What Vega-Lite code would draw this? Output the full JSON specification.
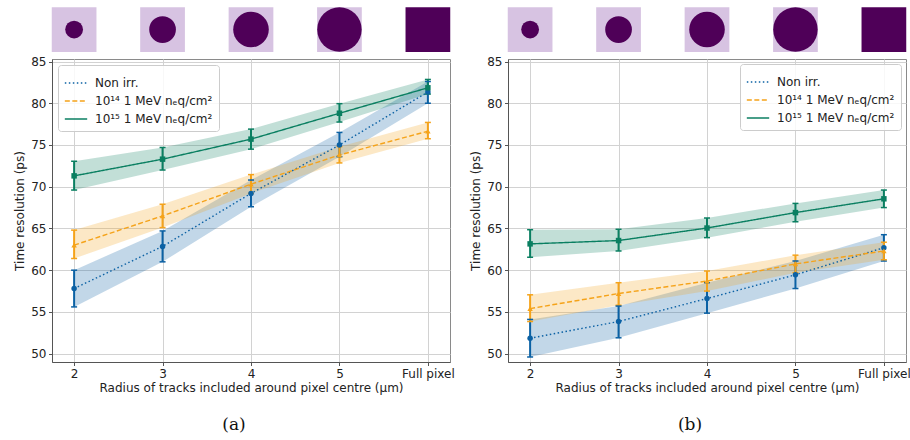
{
  "$schema": "https://vega.github.io/schema/vega-lite/v6.json",
  "padding": {"left": 13, "top": 6, "right": 0, "bottom": 0},
  "background": "white",
  "spacing": 14,
  "datasets": {
    "icons": [
      {"x": 2, "radius": 2, "kind": "partial"},
      {"x": 3, "radius": 3, "kind": "partial"},
      {"x": 4, "radius": 4, "kind": "partial"},
      {"x": 5, "radius": 5, "kind": "partial"},
      {"x": 6, "radius": null, "kind": "full"}
    ],
    "a": [
      {"series": "Non irr.", "x": 2, "y": 57.8, "lo": 55.6, "hi": 60.0},
      {"series": "Non irr.", "x": 3, "y": 62.85, "lo": 61.0, "hi": 64.7},
      {"series": "Non irr.", "x": 4, "y": 69.2, "lo": 67.6, "hi": 70.8},
      {"series": "Non irr.", "x": 5, "y": 75.0, "lo": 73.6, "hi": 76.5},
      {"series": "Non irr.", "x": 6, "y": 81.35, "lo": 80.0, "hi": 82.6},
      {"series": "10¹⁴ 1 MeV nₑq/cm²", "x": 2, "y": 63.0, "lo": 61.4, "hi": 64.8},
      {"series": "10¹⁴ 1 MeV nₑq/cm²", "x": 3, "y": 66.5, "lo": 65.1, "hi": 67.9},
      {"series": "10¹⁴ 1 MeV nₑq/cm²", "x": 4, "y": 70.3, "lo": 69.2, "hi": 71.45},
      {"series": "10¹⁴ 1 MeV nₑq/cm²", "x": 5, "y": 73.8, "lo": 72.85, "hi": 74.8},
      {"series": "10¹⁴ 1 MeV nₑq/cm²", "x": 6, "y": 76.65, "lo": 75.75, "hi": 77.7},
      {"series": "10¹⁵ 1 MeV nₑq/cm²", "x": 2, "y": 71.3, "lo": 69.6, "hi": 73.05},
      {"series": "10¹⁵ 1 MeV nₑq/cm²", "x": 3, "y": 73.3, "lo": 72.0, "hi": 74.7},
      {"series": "10¹⁵ 1 MeV nₑq/cm²", "x": 4, "y": 75.7, "lo": 74.5, "hi": 76.9},
      {"series": "10¹⁵ 1 MeV nₑq/cm²", "x": 5, "y": 78.8, "lo": 77.75, "hi": 79.95},
      {"series": "10¹⁵ 1 MeV nₑq/cm²", "x": 6, "y": 81.85, "lo": 81.1, "hi": 82.85}
    ],
    "b": [
      {"series": "Non irr.", "x": 2, "y": 51.85, "lo": 49.6, "hi": 54.1},
      {"series": "Non irr.", "x": 3, "y": 53.85, "lo": 51.9, "hi": 55.7},
      {"series": "Non irr.", "x": 4, "y": 56.6, "lo": 54.85, "hi": 58.5},
      {"series": "Non irr.", "x": 5, "y": 59.45, "lo": 57.8, "hi": 61.1},
      {"series": "Non irr.", "x": 6, "y": 62.7, "lo": 61.1, "hi": 64.25},
      {"series": "10¹⁴ 1 MeV nₑq/cm²", "x": 2, "y": 55.4, "lo": 53.85, "hi": 57.05},
      {"series": "10¹⁴ 1 MeV nₑq/cm²", "x": 3, "y": 57.2, "lo": 55.8, "hi": 58.5},
      {"series": "10¹⁴ 1 MeV nₑq/cm²", "x": 4, "y": 58.7, "lo": 57.5, "hi": 59.9},
      {"series": "10¹⁴ 1 MeV nₑq/cm²", "x": 5, "y": 60.75, "lo": 59.7, "hi": 61.8},
      {"series": "10¹⁴ 1 MeV nₑq/cm²", "x": 6, "y": 62.3, "lo": 61.25, "hi": 63.35},
      {"series": "10¹⁵ 1 MeV nₑq/cm²", "x": 2, "y": 63.15, "lo": 61.55, "hi": 64.85},
      {"series": "10¹⁵ 1 MeV nₑq/cm²", "x": 3, "y": 63.55, "lo": 62.3, "hi": 64.9},
      {"series": "10¹⁵ 1 MeV nₑq/cm²", "x": 4, "y": 65.05, "lo": 63.9, "hi": 66.25},
      {"series": "10¹⁵ 1 MeV nₑq/cm²", "x": 5, "y": 66.9, "lo": 65.8, "hi": 68.0},
      {"series": "10¹⁵ 1 MeV nₑq/cm²", "x": 6, "y": 68.55, "lo": 67.5, "hi": 69.6}
    ]
  },
  "config": {
    "font": "DejaVu Sans",
    "view": {"stroke": "#8a8a8a", "strokeWidth": 1},
    "axis": {
      "labelFont": "DejaVu Sans", "labelFontSize": 12, "labelColor": "#222",
      "titleFont": "DejaVu Sans", "titleFontSize": 12, "titleFontWeight": "normal", "titleColor": "#222",
      "gridColor": "#d2d2d2", "gridWidth": 1, "gridOpacity": 1,
      "domainColor": "#555", "tickColor": "#555", "tickSize": 3.5, "labelPadding": 2.5
    },
    "legend": {
      "labelFont": "DejaVu Sans", "labelFontSize": 12, "labelColor": "#222",
      "fillColor": "rgba(255,255,255,0.85)", "strokeColor": "#cccccc", "cornerRadius": 3,
      "padding": 6, "symbolType": "stroke", "symbolSize": 500, "symbolStrokeWidth": 1.6,
      "symbolOpacity": 1, "labelOffset": 7, "rowPadding": -2
    },
    "title": {"font": "DejaVu Serif", "fontSize": 17, "fontWeight": "normal", "color": "#111"}
  },
  "hconcat": [
    {
      "title": {"text": "(a)", "orient": "bottom", "anchor": "middle", "frame": "bounds", "offset": 24},
      "width": 398,
      "height": 303,
      "layer": [
        {
          "data": {"name": "icons"},
          "mark": {"type": "point", "shape": "square", "filled": true, "size": 2000, "opacity": 1, "clip": false},
          "encoding": {
            "x": {"field": "x", "type": "quantitative"},
            "y": {"datum": 88.83, "type": "quantitative"},
            "fill": {"field": "kind", "type": "nominal", "scale": {"domain": ["partial", "full"], "range": ["#d7c3e2", "#4f0058"]}, "legend": null}
          }
        },
        {
          "data": {"name": "icons"},
          "transform": [{"filter": "datum.radius != null"}],
          "mark": {"type": "point", "shape": "circle", "filled": true, "opacity": 1, "clip": false},
          "encoding": {
            "x": {"field": "x", "type": "quantitative"},
            "y": {"datum": 88.83, "type": "quantitative"},
            "color": {"value": "#4f0058"},
            "size": {"field": "radius", "type": "quantitative", "scale": {"type": "pow", "exponent": 2, "domain": [0, 5], "range": [0, 1980]}, "legend": null}
          }
        },
        {
          "data": {"name": "a"},
          "layer": [
            {
              "mark": {"type": "area", "opacity": 0.25},
              "encoding": {
                "x": {"field": "x", "type": "quantitative"},
                "y": {"field": "lo", "type": "quantitative"},
                "y2": {"field": "hi"},
                "color": {"field": "series", "type": "nominal"}
              }
            },
            {
              "mark": {"type": "line", "strokeWidth": 1.4},
              "encoding": {
                "x": {"field": "x", "type": "quantitative"},
                "y": {"field": "y", "type": "quantitative"},
                "color": {"field": "series", "type": "nominal"},
                "strokeDash": {"field": "series", "type": "nominal", "scale": {"domain": ["Non irr.", "10¹⁴ 1 MeV nₑq/cm²", "10¹⁵ 1 MeV nₑq/cm²"], "range": [[1.5, 2.5], [5, 2.5], [1, 0]]},
                  "legend": {"title": null, "orient": "top-left", "offset": 6, "symbolType": "stroke"}}
              }
            },
            {
              "mark": {"type": "rule", "strokeWidth": 2},
              "encoding": {
                "x": {"field": "x", "type": "quantitative"},
                "y": {"field": "lo", "type": "quantitative"},
                "y2": {"field": "hi"},
                "color": {"field": "series", "type": "nominal"}
              }
            },
            {
              "mark": {"type": "tick", "orient": "horizontal", "size": 6, "thickness": 1.5, "opacity": 1},
              "encoding": {
                "x": {"field": "x", "type": "quantitative"},
                "y": {"field": "lo", "type": "quantitative"},
                "color": {"field": "series", "type": "nominal"}
              }
            },
            {
              "mark": {"type": "tick", "orient": "horizontal", "size": 6, "thickness": 1.5, "opacity": 1},
              "encoding": {
                "x": {"field": "x", "type": "quantitative"},
                "y": {"field": "hi", "type": "quantitative"},
                "color": {"field": "series", "type": "nominal"}
              }
            },
            {
              "transform": [{"filter": "datum.series == 'Non irr.'"}],
              "mark": {"type": "point", "shape": "circle", "filled": true, "size": 30, "opacity": 1},
              "encoding": {
                "x": {"field": "x", "type": "quantitative"},
                "y": {"field": "y", "type": "quantitative"},
                "color": {"field": "series", "type": "nominal"}
              }
            },
            {
              "transform": [{"filter": "datum.series == '10¹⁴ 1 MeV nₑq/cm²'"}],
              "mark": {"type": "point", "shape": "triangle-up", "filled": true, "size": 30, "opacity": 1},
              "encoding": {
                "x": {"field": "x", "type": "quantitative"},
                "y": {"field": "y", "type": "quantitative"},
                "color": {"field": "series", "type": "nominal"}
              }
            },
            {
              "transform": [{"filter": "datum.series == '10¹⁵ 1 MeV nₑq/cm²'"}],
              "mark": {"type": "point", "shape": "square", "filled": true, "size": 30, "opacity": 1},
              "encoding": {
                "x": {"field": "x", "type": "quantitative"},
                "y": {"field": "y", "type": "quantitative"},
                "color": {"field": "series", "type": "nominal"}
              }
            }
          ]
        }
      ],
      "encoding": {
        "x": {"field": "x", "type": "quantitative", "scale": {"domain": [1.75, 6.25], "nice": false, "zero": false},
              "axis": {"values": [2, 3, 4, 5, 6], "labelExpr": "datum.value == 6 ? 'Full pixel' : datum.label", "title": "Radius of tracks included around pixel centre (μm)", "grid": true, "titlePadding": 3}},
        "y": {"type": "quantitative", "scale": {"domain": [49, 85.3], "nice": false, "zero": false},
              "axis": {"values": [50, 55, 60, 65, 70, 75, 80, 85], "title": "Time resolution (ps)", "grid": true, "titlePadding": 4}},
        "color": {"field": "series", "type": "nominal", "scale": {"domain": ["Non irr.", "10¹⁴ 1 MeV nₑq/cm²", "10¹⁵ 1 MeV nₑq/cm²"], "range": ["#0b61a4", "#f5a31a", "#0a7f61"]},
                  "legend": {"title": null, "orient": "top-left", "offset": 6, "symbolType": "stroke"}}
      }
    },
    {
      "title": {"text": "(b)", "orient": "bottom", "anchor": "middle", "frame": "bounds", "offset": 24},
      "width": 398,
      "height": 303,
      "layer": [
        {
          "data": {"name": "icons"},
          "mark": {"type": "point", "shape": "square", "filled": true, "size": 2000, "opacity": 1, "clip": false},
          "encoding": {
            "x": {"field": "x", "type": "quantitative"},
            "y": {"datum": 88.83, "type": "quantitative"},
            "fill": {"field": "kind", "type": "nominal", "scale": {"domain": ["partial", "full"], "range": ["#d7c3e2", "#4f0058"]}, "legend": null}
          }
        },
        {
          "data": {"name": "icons"},
          "transform": [{"filter": "datum.radius != null"}],
          "mark": {"type": "point", "shape": "circle", "filled": true, "opacity": 1, "clip": false},
          "encoding": {
            "x": {"field": "x", "type": "quantitative"},
            "y": {"datum": 88.83, "type": "quantitative"},
            "color": {"value": "#4f0058"},
            "size": {"field": "radius", "type": "quantitative", "scale": {"type": "pow", "exponent": 2, "domain": [0, 5], "range": [0, 1980]}, "legend": null}
          }
        },
        {
          "data": {"name": "b"},
          "layer": [
            {
              "mark": {"type": "area", "opacity": 0.25},
              "encoding": {
                "x": {"field": "x", "type": "quantitative"},
                "y": {"field": "lo", "type": "quantitative"},
                "y2": {"field": "hi"},
                "color": {"field": "series", "type": "nominal"}
              }
            },
            {
              "mark": {"type": "line", "strokeWidth": 1.4},
              "encoding": {
                "x": {"field": "x", "type": "quantitative"},
                "y": {"field": "y", "type": "quantitative"},
                "color": {"field": "series", "type": "nominal"},
                "strokeDash": {"field": "series", "type": "nominal", "scale": {"domain": ["Non irr.", "10¹⁴ 1 MeV nₑq/cm²", "10¹⁵ 1 MeV nₑq/cm²"], "range": [[1.5, 2.5], [5, 2.5], [1, 0]]},
                  "legend": {"title": null, "orient": "top-right", "offset": 5, "symbolType": "stroke"}}
              }
            },
            {
              "mark": {"type": "rule", "strokeWidth": 2},
              "encoding": {
                "x": {"field": "x", "type": "quantitative"},
                "y": {"field": "lo", "type": "quantitative"},
                "y2": {"field": "hi"},
                "color": {"field": "series", "type": "nominal"}
              }
            },
            {
              "mark": {"type": "tick", "orient": "horizontal", "size": 6, "thickness": 1.5, "opacity": 1},
              "encoding": {
                "x": {"field": "x", "type": "quantitative"},
                "y": {"field": "lo", "type": "quantitative"},
                "color": {"field": "series", "type": "nominal"}
              }
            },
            {
              "mark": {"type": "tick", "orient": "horizontal", "size": 6, "thickness": 1.5, "opacity": 1},
              "encoding": {
                "x": {"field": "x", "type": "quantitative"},
                "y": {"field": "hi", "type": "quantitative"},
                "color": {"field": "series", "type": "nominal"}
              }
            },
            {
              "transform": [{"filter": "datum.series == 'Non irr.'"}],
              "mark": {"type": "point", "shape": "circle", "filled": true, "size": 30, "opacity": 1},
              "encoding": {
                "x": {"field": "x", "type": "quantitative"},
                "y": {"field": "y", "type": "quantitative"},
                "color": {"field": "series", "type": "nominal"}
              }
            },
            {
              "transform": [{"filter": "datum.series == '10¹⁴ 1 MeV nₑq/cm²'"}],
              "mark": {"type": "point", "shape": "triangle-up", "filled": true, "size": 30, "opacity": 1},
              "encoding": {
                "x": {"field": "x", "type": "quantitative"},
                "y": {"field": "y", "type": "quantitative"},
                "color": {"field": "series", "type": "nominal"}
              }
            },
            {
              "transform": [{"filter": "datum.series == '10¹⁵ 1 MeV nₑq/cm²'"}],
              "mark": {"type": "point", "shape": "square", "filled": true, "size": 30, "opacity": 1},
              "encoding": {
                "x": {"field": "x", "type": "quantitative"},
                "y": {"field": "y", "type": "quantitative"},
                "color": {"field": "series", "type": "nominal"}
              }
            }
          ]
        }
      ],
      "encoding": {
        "x": {"field": "x", "type": "quantitative", "scale": {"domain": [1.75, 6.25], "nice": false, "zero": false},
              "axis": {"values": [2, 3, 4, 5, 6], "labelExpr": "datum.value == 6 ? 'Full pixel' : datum.label", "title": "Radius of tracks included around pixel centre (μm)", "grid": true, "titlePadding": 3}},
        "y": {"type": "quantitative", "scale": {"domain": [49, 85.3], "nice": false, "zero": false},
              "axis": {"values": [50, 55, 60, 65, 70, 75, 80, 85], "title": "Time resolution (ps)", "grid": true, "titlePadding": 4}},
        "color": {"field": "series", "type": "nominal", "scale": {"domain": ["Non irr.", "10¹⁴ 1 MeV nₑq/cm²", "10¹⁵ 1 MeV nₑq/cm²"], "range": ["#0b61a4", "#f5a31a", "#0a7f61"]},
                  "legend": {"title": null, "orient": "top-right", "offset": 5, "symbolType": "stroke"}}
      }
    }
  ],
  "resolve": {"scale": {"color": "independent", "strokeDash": "independent", "fill": "independent", "size": "independent", "shape": "independent"}, "legend": {"color": "independent", "strokeDash": "independent"}}
}
